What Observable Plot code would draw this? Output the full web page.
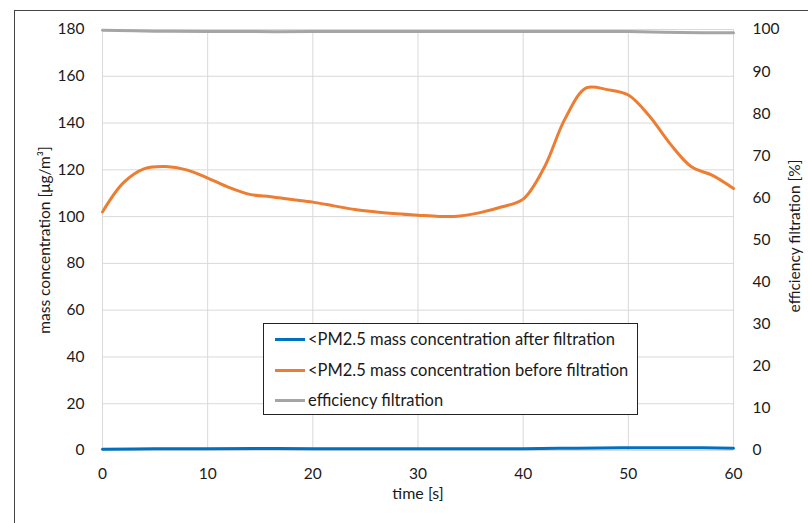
<!DOCTYPE html>
<html>
<head>
<meta charset="utf-8">
<script src="https://cdn.jsdelivr.net/npm/d3@7"></script>
<script src="https://cdn.jsdelivr.net/npm/@observablehq/plot@0.6"></script>
<style>
  html, body { margin: 0; padding: 0; background: #fff; overflow: hidden; }
  #wrap { position: relative; width: 808px; height: 523px; overflow: hidden; font-family: Lato, "Open Sans", sans-serif; }
  #frame { position: absolute; left: 14px; top: 10px; width: 900px; height: 700px; border: 1px solid #444; box-sizing: border-box; pointer-events: none; }
  #legend { position: absolute; left: 263px; top: 323px; width: 375px; height: 92px; border: 1px solid #222; box-sizing: border-box; background: #fff; }
  .row { position: absolute; left: 11px; height: 20px; display: flex; align-items: center; font-size: 16.5px; color: #1a1a1a; white-space: nowrap; }
  .sw { width: 30px; height: 3px; margin-right: 3px; }
</style>
</head>
<body>
<div id="wrap"></div>
<script>
// ---- data ----
const timeBefore = [0,2,4,6,8,10,12,14,16,18,20,22,24,26,28,30,32,34,36,38,40,42,44,46,48,50,52,54,56,58,60];
const pmBefore   = [102,114.5,120.5,121.4,120,116.5,112.5,109.5,108.5,107.3,106.2,104.6,103,102,101.2,100.6,100.1,100.3,101.8,104.2,107.5,121,142,155,154.3,152,143,131,121.3,117.6,112];
const timeAfter  = [0,5,10,20,30,40,45,50,55,60];
const pmAfter    = [0.5,0.7,0.8,0.8,0.8,0.8,1.0,1.2,1.2,1.0];
const timeEff    = [0,5,10,20,30,40,50,55,60];
const efficiency = [99.8,99.6,99.5,99.5,99.5,99.5,99.5,99.3,99.2];
const xTicks = [0,10,20,30,40,50,60];
const yTicks = [0,20,40,60,80,100,120,140,160,180];
const y2Ticks = [0,10,20,30,40,50,60,70,80,90,100];
const seriesNames = ["<PM2.5 mass concentration after filtration", "<PM2.5 mass concentration before filtration", "efficiency filtration"];
const seriesColors = ["#0070C0", "#ED7D31", "#A5A5A5"];

const k = 180 / 100; // right axis (0–100 %) mapped onto left axis (0–180)
const before = timeBefore.map((t, i) => ({t, v: pmBefore[i]}));
const after = timeAfter.map((t, i) => ({t, v: pmAfter[i]}));
const eff = timeEff.map((t, i) => ({t, v: efficiency[i] * k}));

const fs = 15.5;
const chart = Plot.plot({
  width: 808, height: 523,
  marginLeft: 102, marginRight: 75, marginTop: 29, marginBottom: 73,
  style: {fontFamily: "Lato, 'Open Sans', sans-serif", fontSize: "16px", color: "#1a1a1a", background: "#fff", overflow: "visible"},
  x: {domain: [0, 60]},
  y: {domain: [0, 180]},
  marks: [
    Plot.gridX(xTicks, {stroke: "#D9D9D9", strokeOpacity: 1}),
    Plot.gridY(yTicks, {stroke: "#D9D9D9", strokeOpacity: 1}),
    Plot.axisX(xTicks, {tickSize: 0, tickPadding: 17, label: null, fontSize: fs}),
    Plot.axisY(yTicks, {tickSize: 0, tickPadding: 18, label: null, fontSize: fs}),
    Plot.axisY(y2Ticks.map(d => d * k), {anchor: "right", tickSize: 0, tickPadding: 19, tickFormat: d => Math.round(d / k), label: null, fontSize: fs}),
    Plot.line(eff, {x: "t", y: "v", stroke: seriesColors[2], strokeWidth: 3, curve: "catmull-rom"}),
    Plot.line(before, {x: "t", y: "v", stroke: seriesColors[1], strokeWidth: 3, curve: "catmull-rom"}),
    Plot.line(after, {x: "t", y: "v", stroke: seriesColors[0], strokeWidth: 3, curve: "catmull-rom"}),
    Plot.text(["mass concentration [μg/m³]"], {frameAnchor: "left", textAnchor: "middle", dx: -57, dy: 0, rotate: -90, fontSize: 15.5}),
    Plot.text(["efficiency filtration [%]"], {frameAnchor: "right", textAnchor: "middle", dx: 62, dy: -4, rotate: -90, fontSize: 15.5}),
    Plot.text(["time [s]"], {frameAnchor: "bottom", dy: 48, fontSize: 16})
  ]
});

const wrap = document.getElementById("wrap");
wrap.appendChild(chart);

const legend = document.createElement("div");
legend.id = "legend";
const rowTops = [5, 36, 66];
seriesNames.forEach((name, i) => {
  const row = document.createElement("div");
  row.className = "row";
  row.style.top = rowTops[i] + "px";
  const sw = document.createElement("div");
  sw.className = "sw";
  sw.style.background = seriesColors[i];
  const label = document.createElement("span");
  label.textContent = name;
  row.appendChild(sw);
  row.appendChild(label);
  legend.appendChild(row);
});
wrap.appendChild(legend);

const frame = document.createElement("div");
frame.id = "frame";
wrap.appendChild(frame);
</script>
</body>
</html>
